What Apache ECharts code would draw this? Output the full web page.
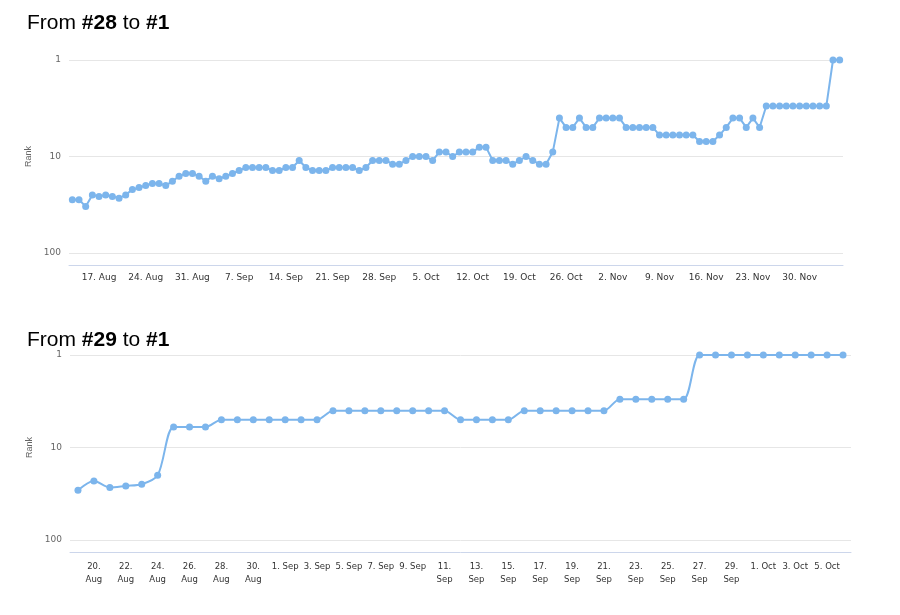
<!DOCTYPE html>
<html><head><meta charset="utf-8">
<script src="https://cdn.jsdelivr.net/npm/echarts@6/dist/echarts.min.js"></script>
<style>html,body{margin:0;padding:0;background:#fff}#c{width:900px;height:615px}</style>
</head><body><div id="c"></div>
<script>
const ranks1 = [28,28,33,25,26,25,26,27,25,22,21,20,19,19,20,18,16,15,15,16,18,16,17,16,15,14,13,13,13,13,14,14,13,13,11,13,14,14,14,13,13,13,13,14,13,11,11,11,12,12,11,10,10,10,11,9,9,10,
9,9,9,8,8,11,11,11,12,11,10,11,12,12,9,4,5,5,4,5,5,4,4,4,4,5,5,5,5,5,6,6,6,6,6,6,7,7,7,6,5,4,4,5,4,5,3,3,3,3,3,3,3,3,3,3,1,1];
const ranks2 = [29,23,27,26,25,20,6,6,6,5,5,5,5,5,5,5,4,4,4,4,4,4,4,4,5,5,5,5,4,4,4,4,4,4,3,3,3,3,3,1,1,1,1,1,1,1,1,1,1];
const months = ['Jan','Feb','Mar','Apr','May','Jun','Jul','Aug','Sep','Oct','Nov','Dec'];
function dates(y,m,d,n){const out=[];const t=new Date(Date.UTC(y,m,d));for(let i=0;i<n;i++){const x=new Date(t.getTime()+i*864e5);out.push(x.getUTCDate()+'. '+months[x.getUTCMonth()]);}return out;}
const cats1 = dates(2015,7,13,ranks1.length);
const cats2 = dates(2015,7,19,ranks2.length);
const wrapLabels2 = ['20. Aug','22. Aug','24. Aug','26. Aug','28. Aug','30. Aug','11. Sep','13. Sep','15. Sep','17. Sep','19. Sep','21. Sep','23. Sep','25. Sep','27. Sep','29. Sep'];
const chart = echarts.init(document.getElementById('c'));
const color='#7cb5ec';
const yBase = {type:'log',logBase:10,min:1,max:100,inverse:true,
  axisLabel:{color:'#666',fontSize:9,fontFamily:'DejaVu Sans'},
  axisLine:{show:false},axisTick:{show:false},
  splitLine:{lineStyle:{color:'#e6e6e6'}},minorSplitLine:{show:false},
  name:'Rank',nameLocation:'middle',nameGap:36,nameTextStyle:{color:'#666',fontSize:9}};
const xBase = {type:'category',boundaryGap:true,offset:12,
  axisLine:{lineStyle:{color:'#ccd6eb'}},
  axisTick:{lineStyle:{color:'#ccd6eb'},length:8},
  axisLabel:{color:'#333',fontSize:9,fontFamily:'DejaVu Sans'}};
const rich={n:{fontSize:21,fontWeight:'normal',fontFamily:'Liberation Sans',color:'#000'},b:{fontSize:21,fontWeight:'bold',fontFamily:'Liberation Sans',color:'#000'}};
chart.setOption({
  animation:false,
  title:[
    {left:22,top:8,text:'{n|From }{b|#28}{n| to }{b|#1}',textStyle:{fontWeight:'normal',rich:rich}},
    {left:22,top:325,text:'{n|From }{b|#29}{n| to }{b|#1}',textStyle:{fontWeight:'normal',rich:rich}}
  ],
  grid:[{left:69,right:57,top:60,height:193},{left:70,right:49,top:355,height:185}],
  xAxis:[
    Object.assign({},xBase,{gridIndex:0,data:cats1,
      axisTick:{lineStyle:{color:'#ccd6eb'},length:8,alignWithLabel:true,interval:(i)=>(i-4)%7===0},
      axisLabel:Object.assign({},xBase.axisLabel,{interval:(i)=>(i-4)%7===0})}),
    Object.assign({},xBase,{gridIndex:1,data:cats2,
      axisTick:{lineStyle:{color:'#ccd6eb'},length:8,alignWithLabel:true,interval:(i)=>i%2===1},
      axisLabel:Object.assign({},xBase.axisLabel,{interval:(i)=>i%2===1,lineHeight:13,fontSize:8.5,
        formatter:(v)=>wrapLabels2.includes(v)?v.replace(' ','\n'):v})})
  ],
  yAxis:[Object.assign({},yBase,{gridIndex:0}),Object.assign({},yBase,{gridIndex:1})],
  series:[
    {type:'line',xAxisIndex:0,yAxisIndex:0,data:ranks1,symbol:'circle',symbolSize:7,showAllSymbol:true,itemStyle:{color:color},lineStyle:{color:color,width:2}},
    {type:'line',xAxisIndex:1,yAxisIndex:1,data:ranks2,symbol:'circle',symbolSize:7,showAllSymbol:true,smooth:0.3,itemStyle:{color:color},lineStyle:{color:color,width:2}}
  ]
});
</script></body></html>
